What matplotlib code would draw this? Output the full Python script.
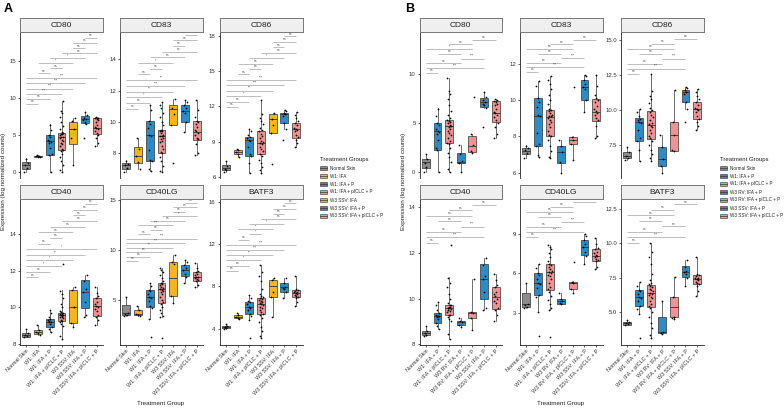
import matplotlib
matplotlib.use("Agg")
import matplotlib.pyplot as plt
from matplotlib.patches import Rectangle
from matplotlib.lines import Line2D

plt.rcParams['font.family'] = ['Liberation Sans', 'DejaVu Sans']

# ---------------- data ----------------
GROUPS = ["Normal Skin", "W1: IFA", "W1: IFA + P", "W1: IFA + pICLC + P",
          "W3 SSV: IFA", "W3 SSV: IFA + P", "W3 SSV: IFA + pICLC + P",
          "W3 RV: IFA + P", "W3 RV: IFA + pICLC + P"]
GROUP_COLORS = ["#8c8c8c", "#f7b519", "#2b8cc8", "#f29393",
                "#f7b519", "#2b8cc8", "#f29393", "#2b8cc8", "#f29393"]
PANEL_A_GROUPS = [0, 1, 2, 3, 4, 5, 6]
PANEL_B_GROUPS = [0, 2, 3, 7, 8, 5, 6]
GENES = ["CD80", "CD83", "CD86", "CD40", "CD40LG", "BATF3"]

# box statistics per group (order of GROUPS)
CD80_med = [0.99, 2.15, 4.23, 4.7, 5.8, 7.2, 6.0, 1.08, 2.7]
CD80_q1 = [0.45, 2.05, 2.3, 3.0, 3.8, 6.6, 5.1, 0.9, 2.1]
CD80_q3 = [1.35, 2.25, 5.0, 5.3, 6.85, 7.6, 7.3, 1.93, 3.7]
CD80_lo = [0.0, 2.0, 0.0, 0.0, 1.0, 6.5, 3.5, 0.0, 2.0]
CD80_hi = [1.9, 2.3, 6.5, 9.6, 7.3, 8.2, 7.5, 2.8, 3.9]
CD80_pts = [[0.0, 0.5, 0.9, 1.3, 1.8],
            [2.0, 2.1, 2.15, 2.2, 2.3],
            [0.0, 2.3, 2.5, 3.3, 3.9, 4.1, 4.2, 4.4, 4.8, 5.0, 5.7, 6.4],
            [0.0, 0.3, 1.0, 1.5, 2.0, 2.5, 2.9, 3.0, 3.2, 3.5, 3.8, 4.0, 4.2, 4.4, 4.6,
             4.7, 4.8, 5.0, 5.1, 5.2, 5.3, 5.5, 5.8, 6.2, 6.8, 7.5, 8.0, 8.3, 9.6],
            [1.0, 4.6, 5.8, 6.9, 7.3],
            [4.6, 6.5, 6.8, 7.0, 7.2, 7.4, 7.7, 8.2],
            [3.5, 3.9, 4.6, 5.0, 5.3, 5.6, 5.8, 6.0, 6.1, 6.4, 6.8, 7.0, 7.2, 7.3, 7.4, 7.5],
            [0.0, 0.9, 1.1, 1.9, 2.8],
            [2.0, 2.2, 2.8, 3.9, 7.7]]

CD83_med = [7.23, 7.83, 9.15, 9.08, 10.85, 10.7, 9.36, 7.16, 7.8]
CD83_q1 = [7.02, 7.4, 7.5, 8.04, 9.79, 10.0, 8.87, 6.55, 7.58]
CD83_q3 = [7.38, 8.4, 10.1, 9.47, 11.06, 11.1, 10.06, 7.47, 7.98]
CD83_lo = [6.8, 7.0, 6.9, 6.8, 9.79, 9.36, 7.9, 6.0, 6.7]
CD83_hi = [7.55, 9.0, 11.06, 11.3, 11.5, 11.4, 11.4, 7.8, 8.0]
CD83_pts = [[6.8, 7.1, 7.25, 7.35, 7.5],
            [7.0, 7.45, 7.83, 8.3, 9.0],
            [6.9, 7.0, 7.5, 7.6, 8.2, 9.1, 9.2, 9.6, 9.9, 10.1, 10.8, 11.06],
            [6.8, 6.9, 7.2, 7.5, 7.8, 8.0, 8.1, 8.3, 8.5, 8.7, 8.8, 8.9, 9.0, 9.1, 9.1,
             9.2, 9.3, 9.4, 9.45, 9.5, 9.8, 10.0, 10.3, 10.6, 10.9, 11.1, 11.3],
            [7.4, 9.8, 10.5, 10.9, 11.5],
            [9.36, 10.0, 10.6, 10.7, 10.9, 11.1, 11.3, 11.4],
            [7.9, 8.0, 8.6, 8.9, 9.0, 9.2, 9.3, 9.4, 9.5, 9.7, 9.9, 10.0, 10.1, 10.3, 10.8, 11.4],
            [6.0, 6.6, 7.16, 7.5, 7.8],
            [6.7, 7.6, 7.8, 7.95, 10.7]]

CD86_med = [6.76, 8.16, 9.15, 8.95, 10.97, 11.34, 10.13, 6.55, 8.21]
CD86_q1 = [6.62, 7.97, 7.8, 7.97, 9.76, 10.6, 9.37, 6.02, 7.07]
CD86_q3 = [7.04, 8.3, 9.43, 9.93, 11.34, 11.48, 10.63, 7.38, 9.17]
CD86_lo = [6.48, 7.7, 6.4, 6.4, 9.76, 10.13, 8.58, 5.52, 7.07]
CD86_hi = [7.4, 8.39, 10.13, 12.57, 11.45, 11.67, 11.53, 8.26, 11.48]
CD86_pts = [[6.48, 6.6, 6.75, 7.0, 7.4],
            [7.7, 8.0, 8.15, 8.3, 8.39],
            [6.4, 7.2, 7.8, 8.0, 8.6, 9.1, 9.2, 9.3, 9.4, 9.6, 9.9, 10.13],
            [6.4, 6.6, 6.9, 7.2, 7.5, 7.8, 8.0, 8.2, 8.4, 8.6, 8.8, 8.9, 9.0, 9.1, 9.3,
             9.5, 9.7, 9.9, 10.0, 10.2, 10.5, 10.8, 11.0, 11.4, 12.57],
            [7.12, 9.76, 10.4, 10.97, 11.45],
            [9.2, 10.13, 10.6, 11.2, 11.34, 11.45, 11.6, 11.67],
            [8.58, 8.9, 9.2, 9.4, 9.6, 9.9, 10.0, 10.1, 10.2, 10.4, 10.6, 10.8, 11.0, 11.3, 11.53],
            [5.52, 6.02, 6.55, 7.38, 8.26],
            [7.07, 7.2, 8.21, 9.17, 11.48]]

CD40_med = [8.51, 8.67, 9.22, 9.58, 10.02, 10.85, 10.07, 8.96, 9.35]
CD40_q1 = [8.4, 8.55, 8.95, 9.27, 9.13, 9.98, 9.53, 8.84, 9.13]
CD40_q3 = [8.58, 8.76, 9.35, 9.71, 10.95, 11.49, 10.49, 9.03, 9.42]
CD40_lo = [8.36, 8.49, 8.67, 8.25, 8.91, 9.49, 9.04, 8.77, 8.62]
CD40_hi = [8.8, 9.04, 9.85, 10.95, 11.09, 11.76, 11.09, 9.13, 10.85]
CD40_pts = [[8.36, 8.42, 8.5, 8.58, 8.8],
            [8.49, 8.6, 8.67, 8.76, 9.04],
            [8.67, 8.8, 8.95, 9.1, 9.2, 9.22, 9.25, 9.3, 9.35, 9.5, 9.7, 9.85],
            [8.25, 8.45, 9.0, 9.1, 9.2, 9.27, 9.3, 9.4, 9.45, 9.5, 9.55, 9.58, 9.6, 9.62,
             9.65, 9.7, 9.72, 9.8, 10.0, 10.2, 10.5, 10.7, 10.9, 12.36],
            [8.91, 9.13, 10.02, 10.95, 11.09],
            [9.49, 9.6, 10.3, 10.85, 11.0, 11.45, 11.76],
            [9.04, 9.3, 9.5, 9.6, 9.8, 9.9, 10.0, 10.1, 10.2, 10.3, 10.5, 10.6, 10.8, 11.09],
            [8.77, 8.84, 8.96, 9.03, 9.13],
            [8.62, 9.13, 9.35, 9.42, 10.85]]

CD40LG_med = [3.67, 3.57, 5.27, 6.07, 7.17, 8.0, 7.33, 3.88, 5.25]
CD40LG_q1 = [3.5, 3.5, 4.33, 4.73, 5.4, 7.4, 6.93, 3.7, 4.8]
CD40LG_q3 = [4.5, 4.0, 6.0, 6.67, 8.83, 8.5, 7.83, 4.05, 5.38]
CD40LG_lo = [3.4, 3.4, 3.07, 3.27, 4.73, 6.67, 6.33, 3.7, 4.5]
CD40LG_hi = [5.3, 4.4, 6.73, 8.17, 9.5, 9.0, 8.67, 4.5, 5.45]
CD40LG_pts = [[3.4, 3.5, 3.6, 3.7, 5.3],
              [3.4, 3.5, 3.57, 4.0, 4.4],
              [1.27, 3.07, 4.2, 4.4, 4.9, 5.2, 5.3, 5.6, 5.9, 6.0, 6.4, 6.73],
              [1.17, 3.27, 3.4, 3.7, 4.0, 4.3, 4.6, 4.8, 5.0, 5.3, 5.6, 5.8, 5.9, 6.0, 6.1,
               6.2, 6.3, 6.5, 6.6, 6.7, 6.9, 7.2, 7.5, 7.8, 8.0, 8.17],
              [4.73, 5.4, 8.6, 8.83, 9.5],
              [6.67, 7.3, 7.6, 8.0, 8.2, 8.5, 8.8, 9.0],
              [6.33, 6.5, 6.9, 7.0, 7.1, 7.2, 7.3, 7.35, 7.5, 7.6, 7.8, 7.9, 8.2, 8.67],
              [3.7, 3.75, 3.9, 4.05, 4.5],
              [4.5, 4.8, 5.25, 5.38, 6.88]]

BATF3_med = [4.16, 5.14, 6.09, 6.34, 8.05, 7.92, 7.42, 3.49, 5.34]
BATF3_q1 = [4.06, 4.98, 5.39, 5.36, 7.04, 7.51, 7.04, 3.44, 4.59]
BATF3_q3 = [4.25, 5.3, 6.56, 6.95, 8.62, 8.37, 7.67, 4.61, 6.07]
BATF3_lo = [4.0, 4.92, 4.82, 3.08, 5.14, 6.88, 6.15, 3.39, 4.46]
BATF3_hi = [4.41, 5.52, 7.2, 10.0, 8.84, 8.78, 9.0, 5.76, 7.54]
BATF3_pts = [[4.0, 4.08, 4.16, 4.25, 4.41],
             [4.92, 5.0, 5.14, 5.3, 5.52],
             [3.08, 4.82, 5.2, 5.4, 5.8, 6.0, 6.1, 6.3, 6.5, 6.6, 6.9, 7.2],
             [3.08, 3.3, 3.8, 4.2, 4.6, 5.0, 5.3, 5.4, 5.6, 5.8, 6.0, 6.1, 6.2, 6.3, 6.4,
              6.5, 6.6, 6.7, 6.8, 6.9, 7.0, 7.1, 7.3, 7.8, 8.5, 9.0, 9.4, 10.0],
             [5.14, 7.0, 7.5, 8.6, 8.84],
             [6.88, 7.5, 7.8, 7.9, 7.95, 8.3, 8.78],
             [6.15, 6.5, 6.9, 7.0, 7.1, 7.2, 7.3, 7.4, 7.45, 7.5, 7.6, 7.7, 7.8, 9.0],
             [3.39, 3.45, 3.5, 5.76],
             [4.46, 4.55, 4.6, 6.07, 7.54]]

# significance comparisons (1-based positions within a panel) and labels
COMP_A = [(1, 2), (1, 3), (1, 4), (1, 5), (1, 6), (1, 7), (2, 3), (3, 4),
          (2, 5), (3, 6), (4, 7), (5, 6), (5, 7), (6, 7)]
CD80_sigA = ["ns", "ns", "***", "***", "***", "***", "ns", "ns", "*", "*", "ns", "ns", "ns", "ns"]
CD83_sigA = ["ns", "ns", "*", "**", "***", "**", "ns", "ns", "*", "ns", "ns", "ns", "ns", "ns"]
CD86_sigA = ["ns", "ns", "*", "**", "***", "***", "ns", "ns", "ns", "*", "ns", "ns", "ns", "ns"]
CD40_sigA = ["ns", "ns", "*", "*", "**", "*", "ns", "ns", "ns", "ns", "ns", "ns", "ns", "ns"]
CD40LG_sigA = ["ns", "ns", "ns", "**", "***", "***", "ns", "ns", "***", "ns", "*", "ns", "ns", "ns"]
BATF3_sigA = ["ns", "ns", "*", "**", "***", "***", "ns", "*", "*", "*", "ns", "ns", "ns", "ns"]

COMP_B = [(1, 2), (1, 6), (1, 4), (4, 6), (2, 4), (1, 5), (3, 5), (5, 7)]
CD80_sigB = ["ns", "***", "ns", "***", "ns", "*", "ns", "ns"]
CD83_sigB = ["ns", "***", "ns", "***", "ns", "ns", "ns", "ns"]
CD86_sigB = ["ns", "***", "ns", "***", "ns", "ns", "ns", "ns"]
CD40_sigB = ["ns", "***", "ns", "***", "ns", "ns", "ns", "ns"]
CD40LG_sigB = ["ns", "***", "ns", "***", "ns", "ns", "ns", "ns"]
BATF3_sigB = ["ns", "***", "ns", "ns", "ns", "ns", "ns", "ns"]

# ---------------- layout ----------------
G = globals()
FW, FH = 784, 409
fig = plt.figure(figsize=(FW / 100, FH / 100), dpi=100)

def px_axes(x, y, w, h):
    return fig.add_axes([x / FW, 1 - (y + h) / FH, w / FW, h / FH])

YLIM_A = {"CD80": (-0.8, 19.0), "CD83": (6.43, 15.75), "CD86": (5.95, 18.3),
          "CD40": (7.95, 15.9), "CD40LG": (0.5, 15.1), "BATF3": (2.45, 16.3)}
YT_A = {"CD80": [0, 5, 10, 15], "CD83": [8, 10, 12, 14], "CD86": [6, 9, 12, 15, 18],
        "CD40": [8, 10, 12, 14], "CD40LG": [5, 10, 15], "BATF3": [4, 8, 12, 16]}
SIGF_A = {"CD80": (0.509, 0.959), "CD83": (0.475, 0.982), "CD86": (0.486, 0.970),
          "CD40": (0.463, 0.966), "CD40LG": (0.575, 0.975), "BATF3": (0.509, 0.97)}
YLIM_B = {"CD80": (-0.6, 14.3), "CD83": (5.72, 13.74), "CD86": (5.17, 15.6),
          "CD40": (7.97, 14.35), "CD40LG": (0.6, 11.6), "BATF3": (2.56, 13.26)}
YT_B = {"CD80": [0, 5, 10], "CD83": [6, 8, 10, 12], "CD86": [7.5, 10.0, 12.5, 15.0],
        "CD40": [8, 10, 12, 14], "CD40LG": [3, 6, 9], "BATF3": [5.0, 7.5, 10.0, 12.5]}
SIGF_B = {"CD80": (0.72, 0.947), "CD83": (0.726, 0.947), "CD86": (0.715, 0.954),
          "CD40": (0.70, 0.96), "CD40LG": (0.74, 0.98), "BATF3": (0.70, 0.965)}

def jitter(k):
    return ((k * 0.618034) % 1.0 - 0.5) * 0.34

def draw_facet(ax, sax, gene, groups, ylim, yticks, comps, sigs, sigf, bottom, fmt):
    stats = []
    for pos, g in enumerate(groups):
        stats.append(dict(med=G[gene + "_med"][g], q1=G[gene + "_q1"][g], q3=G[gene + "_q3"][g],
                          whislo=G[gene + "_lo"][g], whishi=G[gene + "_hi"][g], fliers=[]))
    bp = ax.bxp(stats, positions=list(range(1, len(groups) + 1)), widths=0.68,
                patch_artist=True, showfliers=False, showcaps=False,
                boxprops=dict(linewidth=0.5, edgecolor="#333333"),
                medianprops=dict(linewidth=0.6, color="#333333"),
                whiskerprops=dict(linewidth=0.5, color="#333333"))
    for patch, g in zip(bp["boxes"], groups):
        patch.set_facecolor(GROUP_COLORS[g])
    for pos, g in enumerate(groups):
        vals = G[gene + "_pts"][g]
        xs = [pos + 1 + jitter(k + 3 * pos) for k in range(len(vals))]
        ax.scatter(xs, vals, s=1.6, color="black", linewidths=0, zorder=5)
    ax.set_xlim(0.45, len(groups) + 0.55)
    ax.set_ylim(*ylim)
    ax.set_yticks(yticks)
    ax.set_yticklabels([fmt(t) for t in yticks])
    rng = ylim[1] - ylim[0]
    n = len(comps)
    for k, ((i, j), lab) in enumerate(zip(comps, sigs)):
        f = sigf[0] + (sigf[1] - sigf[0]) * k / (n - 1)
        y = ylim[0] + f * rng
        ax.plot([i, j], [y, y], color="#9a9a9a", lw=0.45, solid_capstyle="butt", clip_on=False)
        ax.text((i + j) / 2, y + 0.004 * rng, lab, ha="center", va="bottom",
                fontsize=2.4, color="#444444")
    for s in ["top", "right"]:
        ax.spines[s].set_visible(False)
    for s in ["left", "bottom"]:
        ax.spines[s].set_linewidth(0.6)
        ax.spines[s].set_color("#222222")
    ax.tick_params(axis="y", labelsize=4.3, length=1.6, width=0.5, pad=1.2, colors="#222222",
                   labelcolor="#333333")
    ax.set_xticks(range(1, len(groups) + 1))
    if bottom:
        ax.tick_params(axis="x", labelsize=3.9, length=1.6, width=0.5, pad=1, colors="#222222",
                       labelcolor="#333333")
        ax.set_xticklabels([GROUPS[g] for g in groups], rotation=45, ha="right",
                           rotation_mode="anchor")
    else:
        ax.tick_params(axis="x", length=0, labelbottom=False)
        ax.spines["bottom"].set_visible(False)
    ax.set_facecolor("white")
    # strip
    sax.set_xticks([]); sax.set_yticks([])
    sax.set_facecolor("#efefef")
    for s in sax.spines.values():
        s.set_linewidth(0.7); s.set_color("#777777")
    sax.text(0.5, 0.48, gene, ha="center", va="center", fontsize=6, color="#222222",
             transform=sax.transAxes)

def fmt_int(t):
    return "%d" % t

def fmt_1(t):
    return "%.1f" % t

COLS_A = [20, 120, 219.5]
COLS_B = [419.5, 520, 621]
ROWS = [(18, 32, 146), (185, 199, 146)]

for k, gene in enumerate(GENES):
    r, c = divmod(k, 3)
    sy, ay, ah = ROWS[r]
    ax = px_axes(COLS_A[c], ay, 83, ah)
    sax = px_axes(COLS_A[c], sy, 83, ay - sy)
    draw_facet(ax, sax, gene, PANEL_A_GROUPS, YLIM_A[gene], YT_A[gene], COMP_A,
               G[gene + "_sigA"], SIGF_A[gene], r == 1, fmt_int)
    ax = px_axes(COLS_B[c], ay, 82.5, ah)
    sax = px_axes(COLS_B[c], sy, 82.5, ay - sy)
    fb = fmt_1 if gene in ("CD86", "BATF3") else fmt_int
    draw_facet(ax, sax, gene, PANEL_B_GROUPS, YLIM_B[gene], YT_B[gene], COMP_B,
               G[gene + "_sigB"], SIGF_B[gene], r == 1, fb)

# overlay for legends and labels
ov = fig.add_axes([0, 0, 1, 1], facecolor="none")
ov.set_xlim(0, FW); ov.set_ylim(FH, 0); ov.axis("off")

ov.text(4, 3, "A", fontsize=9, fontweight="bold", va="top", ha="left")
ov.text(405, 3, "B", fontsize=9, fontweight="bold", va="top", ha="left")
for xl in (4, 404):
    ov.text(xl, 181, "Expression (log normalized counts)", rotation=90, fontsize=4.5,
            ha="center", va="center", color="#222222")
ov.text(161, 404, "Treatment Group", fontsize=4.5, ha="center", va="center", color="#222222")
ov.text(561, 404, "Treatment Group", fontsize=4.5, ha="center", va="center", color="#222222")

def legend(x0, groups):
    ov.text(x0, 159.5, "Treatment Groups", fontsize=4.3, ha="left", va="center", color="#222222")
    for k, g in enumerate(groups):
        yc = 168 + 8 * k
        ov.add_patch(Rectangle((x0 + 0.5, yc - 2.3), 6.5, 4.6, facecolor=GROUP_COLORS[g],
                               edgecolor="#333333", lw=0.4))
        ov.add_line(Line2D([x0 + 0.5, x0 + 7], [yc, yc], color="#333333", lw=0.5))
        ov.text(x0 + 10, yc, GROUPS[g], fontsize=3.3, ha="left", va="center", color="#222222")

legend(320, PANEL_A_GROUPS)
legend(720, PANEL_B_GROUPS)

fig.savefig("out.png", dpi=100)
